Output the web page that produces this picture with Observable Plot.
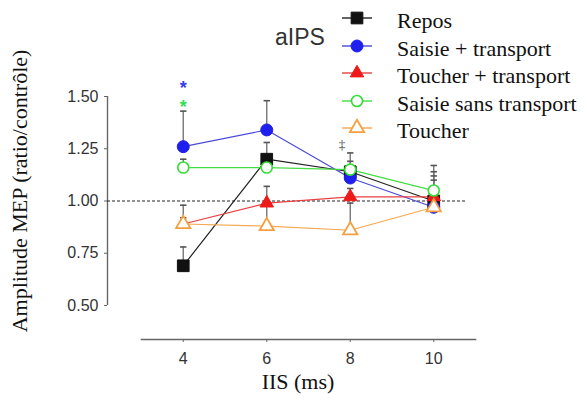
<!DOCTYPE html>
<html>
<head>
<meta charset="utf-8">
<script src="https://cdn.jsdelivr.net/npm/d3@7"></script>
<script src="https://cdn.jsdelivr.net/npm/@observablehq/plot@0.6"></script>
<style>
  html, body { margin: 0; padding: 0; background: #fff; }
  #wrap { position: relative; width: 587px; height: 414px; overflow: hidden; }
  #wrap svg.plot { position: absolute; left: 0; top: 0; }
  .serif { font-family: "Liberation Serif", "Times New Roman", serif; color: #111; }
  #ylab { position: absolute; left: 20px; top: 191px; transform: translate(-50%, -50%) rotate(-90deg); white-space: nowrap; font-size: 22px; }
  #xlab { position: absolute; left: 298px; top: 382px; transform: translate(-50%, -50%); white-space: nowrap; font-size: 22px; }
  #title { position: absolute; left: 300px; top: 37px; transform: translate(-50%, -50%); font-family: "Liberation Sans", Arial, sans-serif; font-size: 23px; color: #333; }
  #legend { position: absolute; left: 340px; top: 5px; }
  .li { position: relative; height: 27.5px; }
  .li svg { position: absolute; left: 0; top: 0; }
  .li span { position: absolute; left: 57px; top: 3px; font-size: 22px; line-height: 26px; white-space: nowrap; color: #111; }
</style>
</head>
<body>
<div id="wrap"></div>
<script>
// ---- data ----
const iis = [4, 6, 8, 10];
const seriesNames = ["Repos", "Saisie + transport", "Toucher + transport", "Saisie sans transport", "Toucher"];
const repos = [0.69, 1.20, 1.14, 1.00];
const saisieTransport = [1.26, 1.34, 1.11, 0.97];
const toucherTransport = [0.89, 0.99, 1.02, 1.02];
const saisieSansTransport = [1.16, 1.16, 1.15, 1.05];
const toucher = [0.89, 0.88, 0.86, 0.97];
const reposErr = [0.09, 0.08, 0.05, 0.12];
const saisieTransportErr = [0.17, 0.14, 0.05, 0.13];
const toucherTransportErr = [0.09, 0.08, 0.04, 0.12];
const saisieSansTransportErr = [0.04, 0.03, 0.08, 0.12];
const toucherErr = [0.03, 0.10, 0.13, 0.05];
const yTicks = [0.50, 0.75, 1.00, 1.25, 1.50];
const stars = [{x: 4, y: 1.56, c: "blue"}, {x: 4, y: 1.47, c: "green"}];
const daggers = [{x: 7.8, y: 1.27}];

// ---- styles ----
const styles = [
  {stroke: "#111", fill: "#111", line: "#222", symbol: "square", r: 6.6, sw: 1},
  {stroke: "#1f1fee", fill: "#1f1fee", line: "#4a4ad8", symbol: "circle", r: 6, sw: 1},
  {stroke: "#ee1a1a", fill: "#ee1a1a", line: "#e84040", symbol: "triangle", r: 5, sw: 1},
  {stroke: "#33dd33", fill: "white", line: "#44dd44", symbol: "circle", r: 5.5, sw: 1.6},
  {stroke: "#f5a040", fill: "white", line: "#f5a850", symbol: "triangle", r: 5.3, sw: 1.8}
];
const vals = [repos, saisieTransport, toucherTransport, saisieSansTransport, toucher];
const errs = [reposErr, saisieTransportErr, toucherTransportErr, saisieSansTransportErr, toucherErr];
const table = [];
seriesNames.forEach((s, i) => iis.forEach((x, j) => table.push({series: s, si: i, x, y: vals[i][j], top: vals[i][j] + errs[i][j]})));

const cap = { draw(ctx, size) { const w = Math.sqrt(size / Math.PI); ctx.moveTo(-w, 0); ctx.lineTo(w, 0); } };
const starColor = {blue: "#3a3aee", green: "#33dd55"};

const marks = [
  Plot.frame({anchor: "bottom", stroke: "#666", strokeWidth: 1.6}),
  Plot.ruleX([3], {y1: 0.5, y2: 1.5, dx: -34, stroke: "#666", strokeWidth: 1.4}),
  Plot.ruleY([1], {x1: 3 - 34 / 41.75, x2: 10.8, stroke: "#222", strokeDasharray: "3,2", strokeWidth: 1}),
  Plot.axisY({ticks: yTicks, tickFormat: d3.format(".2f"), dx: -34, tickSize: 3, tickPadding: 6, stroke: "#666",
    fontSize: 16, fontFamily: "Liberation Sans, Arial, sans-serif", fill: "#333", label: null}),
  Plot.axisX({ticks: iis, tickSize: 3, tickPadding: 10, stroke: "#666", fontSize: 16,
    fontFamily: "Liberation Sans, Arial, sans-serif", fill: "#333", label: null}),
  Plot.ruleX(table, {x: "x", y1: "y", y2: "top", stroke: "#777", strokeWidth: 1.4}),
  Plot.dot(table, {x: "x", y: "top", symbol: cap, r: 3.2, stroke: "#555", strokeWidth: 1.6, fill: null}),
];
styles.forEach((st, i) => {
  const d = table.filter(r => r.si === i);
  marks.push(Plot.line(d, {x: "x", y: "y", stroke: st.line, strokeWidth: 1.2}));
});
styles.forEach((st, i) => {
  const d = table.filter(r => r.si === i);
  marks.push(Plot.dot(d, {x: "x", y: "y", symbol: st.symbol, r: st.r, fill: st.fill, stroke: st.stroke, strokeWidth: st.sw}));
});
marks.push(Plot.text(stars, {x: "x", y: "y", text: d => "*", fill: d => starColor[d.c], fontSize: 18, fontWeight: "bold", dy: 4,
  fontFamily: "Liberation Sans, Arial, sans-serif"}));
marks.push(Plot.text(daggers, {x: "x", y: "y", text: d => "‡", fill: "#444", fontSize: 13, fontFamily: "Liberation Serif, serif"}));

const chart = Plot.plot({
  width: 587,
  height: 414,
  marginLeft: 141,
  marginRight: 112,
  marginTop: 96,
  marginBottom: 75,
  x: {domain: [3, 11]},
  y: {domain: [0.5, 1.5], range: [305, 96]},
  style: {background: "white", overflow: "visible"},
  marks
});
chart.classList.add("plot");
const wrap = document.getElementById("wrap");
wrap.appendChild(chart);

const title = document.createElement("div"); title.id = "title"; title.textContent = "aIPS"; wrap.appendChild(title);
const ylab = document.createElement("div"); ylab.id = "ylab"; ylab.className = "serif"; ylab.textContent = "Amplitude MEP (ratio/contrôle)"; wrap.appendChild(ylab);
const xlab = document.createElement("div"); xlab.id = "xlab"; xlab.className = "serif"; xlab.textContent = "IIS (ms)"; wrap.appendChild(xlab);

const legend = document.createElement("div"); legend.id = "legend";
seriesNames.forEach((name, i) => {
  const st = styles[i];
  const row = document.createElement("div"); row.className = "li";
  const sym = d3.create("svg").attr("width", 40).attr("height", 26);
  sym.append("line").attr("x1", 2).attr("x2", 32).attr("y1", 13).attr("y2", 13).attr("stroke", st.line).attr("stroke-width", 1.4);
  const typ = st.symbol === "square" ? d3.symbolSquare : st.symbol === "circle" ? d3.symbolCircle : d3.symbolTriangle;
  sym.append("path").attr("transform", "translate(17,13)").attr("d", d3.symbol(typ, Math.PI * st.r * st.r)())
    .attr("fill", st.fill).attr("stroke", st.stroke).attr("stroke-width", st.sw);
  row.appendChild(sym.node());
  const sp = document.createElement("span");
  sp.style.fontFamily = "'Liberation Serif', 'Times New Roman', serif";
  sp.textContent = name; row.appendChild(sp);
  legend.appendChild(row);
});
wrap.appendChild(legend);
</script>
</body>
</html>
